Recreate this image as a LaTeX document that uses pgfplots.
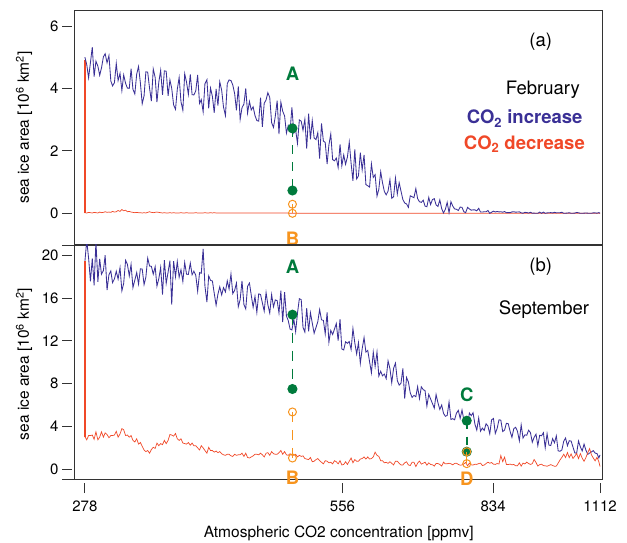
\documentclass[border=0pt]{standalone}
\usepackage{fontspec}
\setmainfont{TeX Gyre Heros}
\usepackage{pgfplots}
\usepackage{pgfplotstable}
\pgfplotsset{compat=1.18}
\definecolor{incblue}{RGB}{58,48,150}
\definecolor{decred}{RGB}{240,72,40}
\definecolor{mkgreen}{RGB}{0,122,60}
\definecolor{mkorange}{RGB}{247,148,30}

\pgfplotstableread{
x fi fd si sd
278.0 5.00 0.02 19.40 3.03
279.4 4.76 0.01 21.40 2.73
280.8 4.34 0.03 19.74 3.13
282.2 4.83 0.02 17.57 3.13
283.6 5.32 0.01 19.72 3.18
285.0 4.38 0.03 17.19 2.78
286.4 4.87 0.02 21.30 3.48
287.9 4.71 0.01 17.53 2.73
289.3 4.42 0.04 19.68 2.98
290.7 4.65 0.02 18.23 3.48
292.2 5.01 0.03 18.58 2.98
293.6 5.11 0.05 20.01 3.38
295.1 4.82 0.03 16.76 3.23
296.6 5.05 0.04 18.19 2.93
298.1 4.24 0.03 18.54 3.13
299.5 4.08 0.06 17.45 3.13
301.0 4.18 0.04 17.80 3.18
302.5 4.80 0.05 18.51 3.53
304.0 4.25 0.09 17.78 2.98
305.6 4.48 0.06 18.85 3.28
307.1 3.93 0.12 16.68 3.78
308.6 4.43 0.08 17.39 3.68
310.2 4.16 0.10 19.54 3.13
311.7 4.01 0.05 19.17 3.18
313.3 4.00 0.06 18.08 2.98
314.8 4.63 0.04 19.15 3.13
316.4 3.97 0.03 16.98 2.68
318.0 3.82 0.02 17.69 2.53
319.6 4.46 0.03 18.40 2.83
321.2 4.70 0.02 17.31 2.33
322.8 4.17 0.02 18.74 2.48
324.4 3.51 0.01 18.72 2.13
326.0 3.76 0.02 17.26 1.78
327.6 4.53 0.01 17.96 1.63
329.2 4.52 0.03 19.74 1.73
330.9 3.99 0.05 19.00 1.48
332.5 3.59 0.03 18.98 1.83
334.2 4.62 0.02 18.24 2.03
335.9 4.35 0.03 18.94 1.93
337.5 3.56 0.04 17.12 2.43
339.2 4.20 0.03 17.82 2.18
340.9 4.58 0.02 18.88 2.38
342.6 3.79 0.01 16.34 2.28
344.3 4.56 0.02 19.56 2.68
346.0 4.55 0.01 17.38 2.38
347.8 3.76 0.01 18.44 2.68
349.5 4.27 0.02 19.50 3.23
351.2 4.00 0.01 15.40 3.18
353.0 3.47 0.02 19.46 3.08
354.8 3.33 0.01 18.00 3.33
356.5 3.97 0.01 19.42 2.83
358.3 4.35 0.01 17.96 2.68
360.1 3.57 0.02 18.66 2.83
361.9 3.30 0.01 17.56 2.43
363.7 4.47 0.01 19.34 2.38
365.5 4.20 0.02 18.24 2.33
367.3 3.81 0.01 18.22 2.48
369.2 4.45 0.01 19.28 2.23
371.0 3.80 0.01 18.18 2.43
372.8 3.79 0.01 18.52 2.18
374.7 3.92 0.02 18.14 2.18
376.6 4.43 0.01 16.64 1.98
378.5 3.52 0.01 18.38 1.78
380.3 3.64 0.01 18.32 2.18
382.2 3.25 0.01 20.60 1.98
384.1 4.15 0.02 17.12 1.73
386.1 4.28 0.01 15.62 1.48
388.0 3.36 0.01 18.08 2.03
389.9 4.01 0.02 17.66 1.73
391.9 3.74 0.01 17.60 1.73
393.8 3.22 0.02 16.46 1.58
395.8 3.98 0.01 15.34 1.68
397.8 3.45 0.01 16.38 1.53
399.7 4.21 0.01 17.06 1.63
401.7 3.94 0.01 16.30 1.43
403.7 3.40 0.01 16.98 1.33
405.8 3.13 0.01 16.58 1.28
407.8 4.15 0.01 17.62 1.38
409.8 4.27 0.01 16.86 1.38
411.9 4.25 0.01 18.26 1.23
413.9 4.11 0.01 16.42 1.18
416.0 3.83 0.01 16.73 1.38
418.0 3.30 0.01 17.40 1.28
420.1 4.06 0.01 15.19 1.33
422.2 3.01 0.01 15.86 1.33
424.3 3.38 0.01 17.61 1.48
426.5 3.50 0.01 15.40 1.18
428.6 4.00 0.01 14.99 1.48
430.7 3.21 0.01 17.10 1.08
432.9 3.58 0.01 17.41 1.03
435.0 3.31 0.01 16.28 1.13
437.2 3.41 0.01 15.14 1.23
439.4 3.13 0.01 16.16 1.38
441.6 2.97 0.01 14.66 1.38
443.8 2.95 0.01 16.40 1.33
446.0 3.70 0.01 16.34 1.48
448.2 2.77 0.01 15.56 1.33
450.4 3.52 0.01 14.78 1.13
452.7 3.63 0.01 16.52 1.48
454.9 3.86 0.01 15.38 1.53
457.2 3.71 0.01 14.60 1.28
459.5 2.90 0.01 16.33 1.63
461.8 2.75 0.01 15.18 1.43
464.1 3.11 0.01 15.83 1.38
466.4 3.61 0.01 15.76 1.38
468.7 2.54 0.01 14.61 1.53
471.1 3.56 0.01 16.70 1.73
473.4 3.27 0.01 13.75 1.38
475.8 3.12 0.01 16.56 1.63
478.2 2.57 0.01 14.33 1.33
480.5 2.81 0.01 13.90 1.28
482.9 2.64 0.00 13.10 1.43
485.3 3.39 0.00 13.02 1.28
487.8 2.57 0.00 14.02 1.28
490.2 2.67 0.00 12.86 1.38
492.6 2.24 0.00 14.58 1.13
495.1 2.99 0.00 15.94 1.28
497.6 2.95 0.00 15.86 1.18
500.0 2.66 0.00 13.26 1.23
502.5 3.01 0.00 12.82 0.98
505.0 2.07 0.00 15.05 0.93
507.6 3.19 0.00 12.89 0.88
510.1 2.37 0.00 14.63 1.08
512.6 2.97 0.00 13.67 0.68
515.2 2.41 0.00 12.71 0.73
517.8 2.36 0.00 13.25 0.88
520.3 2.58 0.00 13.79 0.98
522.9 1.75 0.00 14.93 0.78
525.5 2.88 0.00 13.97 0.63
528.2 2.31 0.00 13.91 0.48
530.8 2.27 0.00 12.65 0.78
533.5 1.58 0.00 14.66 0.73
536.1 2.19 0.00 11.87 0.58
538.8 2.54 0.00 12.98 0.63
541.5 1.72 0.00 12.59 0.48
544.2 1.68 0.00 13.10 0.78
546.9 1.77 0.00 13.61 0.68
549.6 1.47 0.00 12.02 0.48
552.4 2.21 0.00 14.03 0.78
555.1 1.52 0.00 11.24 0.38
557.9 1.87 0.00 11.15 0.43
560.7 1.57 0.00 11.91 0.68
563.5 1.80 0.00 11.77 0.43
566.3 2.28 0.00 11.93 0.73
569.1 1.60 0.00 11.19 1.03
571.9 1.04 0.00 13.15 0.58
574.8 2.05 0.00 11.81 0.88
577.7 1.10 0.00 10.77 0.73
580.5 1.20 0.00 11.83 0.73
583.4 1.94 0.00 9.89 0.93
586.3 1.39 0.00 11.25 0.98
589.3 1.87 0.00 12.30 1.13
592.2 0.92 0.00 10.95 0.93
595.2 0.88 0.00 11.10 1.13
598.1 0.84 0.00 10.05 0.93
601.1 1.58 0.00 9.00 0.98
604.1 1.15 0.00 10.95 1.13
607.1 1.24 0.00 9.60 1.58
610.2 0.55 0.00 10.95 1.28
613.2 0.77 0.00 8.70 1.18
616.3 1.33 0.00 9.15 0.78
619.3 0.98 0.00 8.72 0.78
622.4 0.70 0.00 8.89 0.58
625.5 0.59 0.00 8.46 0.63
628.6 0.71 0.00 10.13 0.53
631.8 1.08 0.00 9.40 0.68
634.9 0.48 0.00 8.07 0.53
638.1 0.53 0.00 9.44 0.38
641.3 1.13 0.00 9.91 0.73
644.5 0.62 0.00 8.28 0.73
647.7 0.98 0.00 7.85 0.53
650.9 0.71 0.00 8.03 0.38
654.2 0.44 0.00 9.41 0.38
657.4 0.33 0.00 6.59 0.58
660.7 0.30 0.00 8.57 0.68
664.0 0.19 0.00 8.15 0.38
667.3 0.56 0.00 7.13 0.33
670.6 0.53 0.00 6.71 0.63
674.0 0.50 0.00 6.89 0.63
677.4 0.79 0.00 6.77 0.23
680.7 0.47 0.00 7.70 0.55
684.1 0.37 0.00 6.59 0.74
687.5 0.35 0.00 7.69 0.46
691.0 0.42 0.00 7.43 0.54
694.4 0.23 0.00 7.34 0.64
697.9 0.21 0.00 5.89 0.36
701.4 0.51 0.00 6.99 0.58
704.9 0.28 0.00 6.56 0.42
708.4 0.44 0.00 6.13 0.40
711.9 0.47 0.00 5.70 0.27
715.4 0.27 0.00 6.97 0.52
719.0 0.22 0.00 6.19 0.51
722.6 0.43 0.00 5.58 0.43
726.2 0.15 0.00 5.99 0.27
729.8 0.01 0.00 5.21 0.64
733.5 0.13 0.00 4.94 0.48
737.1 0.35 0.00 5.01 0.49
740.8 0.02 0.00 6.27 0.54
744.5 0.37 0.00 4.64 0.49
748.2 0.23 0.00 4.71 0.39
751.9 0.14 0.00 4.61 0.52
755.7 0.13 0.00 5.22 0.54
759.5 0.09 0.00 5.49 0.43
763.3 0.20 0.00 4.74 0.36
767.1 0.19 0.00 5.52 0.37
770.9 0.05 0.00 4.60 0.48
774.7 0.02 0.00 4.70 0.61
778.6 0.19 0.00 4.12 0.30
782.5 0.14 0.00 5.24 0.55
786.4 0.10 0.00 5.00 0.39
790.3 0.11 0.00 5.27 0.37
794.2 0.11 0.00 4.20 0.45
798.2 0.08 0.00 3.64 0.43
802.2 0.16 0.00 4.78 0.51
806.2 0.04 0.00 3.54 0.55
810.2 0.04 0.00 3.83 0.33
814.2 0.05 0.00 3.61 0.37
818.3 0.05 0.00 4.24 0.51
822.4 0.09 0.00 4.02 0.64
826.5 0.00 0.00 3.29 0.54
830.6 0.035 0.00 4.60 0.61
834.8 0.069 0.00 4.73 0.45
838.9 0.043 0.00 3.33 0.43
843.1 0.059 0.00 3.80 0.51
847.3 0.045 0.00 4.61 0.47
851.5 0.049 0.00 4.57 1.26
855.8 0.035 0.00 3.51 0.69
860.1 0.057 0.00 3.64 1.11
864.3 0.019 0.00 4.28 0.43
868.7 0.023 0.00 4.24 0.42
873.0 0.021 0.00 3.52 0.46
877.3 0.044 0.00 2.97 0.39
881.7 0.049 0.00 3.78 0.43
886.1 0.036 0.00 3.91 0.30
890.5 0.041 0.00 3.53 0.30
895.0 0.046 0.00 2.64 0.58
899.4 0.015 0.00 4.13 0.27
903.9 0.002 0.00 2.90 0.55
908.4 0.031 0.00 3.20 0.48
913.0 0.024 0.00 3.16 0.64
917.5 0.008 0.00 3.63 0.51
922.1 0.032 0.00 3.41 0.43
926.7 0.002 0.00 2.51 0.50
931.3 0.006 0.00 2.97 0.89
936.0 0.000 0.00 3.26 0.61
940.6 0.000 0.00 2.19 0.27
945.3 0.039 0.00 3.16 0.41
950.0 0.000 0.00 3.11 0.45
954.8 0.038 0.00 3.40 0.32
959.5 0.000 0.00 1.99 0.30
964.3 0.013 0.00 3.30 0.26
969.1 0.017 0.00 2.24 0.33
974.0 0.022 0.00 2.20 0.41
978.8 0.011 0.00 2.84 0.33
983.7 0.030 0.00 2.46 0.26
988.6 0.015 0.00 3.10 0.27
993.5 0.020 0.00 1.70 0.55
998.5 0.019 0.00 1.66 0.85
1003.5 0.033 0.00 1.79 1.09
1008.5 0.000 0.00 2.60 1.38
1013.5 0.003 0.00 2.90 1.07
1018.6 0.008 0.00 2.18 1.54
1023.6 0.018 0.00 2.65 1.06
1028.8 0.000 0.00 2.61 1.41
1033.9 0.002 0.00 2.06 0.99
1039.0 0.007 0.00 1.51 1.19
1044.2 0.026 0.00 1.47 1.45
1049.4 0.016 0.00 2.62 0.97
1054.7 0.000 0.00 2.07 1.44
1059.9 0.000 0.00 1.69 1.02
1065.2 0.005 0.00 2.33 0.72
1070.5 0.010 0.00 1.77 1.07
1075.9 0.004 0.00 1.37 1.52
1081.2 0.000 0.00 1.49 1.91
1086.6 0.000 0.00 1.60 1.33
1092.0 0.014 0.00 1.72 1.03
1097.5 0.013 0.00 1.49 0.76
1103.0 0.003 0.00 1.44 1.10
1108.5 0.023 0.00 1.04 0.68
1112.0 0.000 0.00 1.32 0.23
}\data

\pgfplotsset{
  panel/.style={
    scale only axis, width=528pt,
    xmin=270, xmax=1118,
    xminorticks=false, yminorticks=false,
    tick align=outside, major tick length=10pt,
    ytick pos=left, xtick pos=bottom,
    axis line style={black!80, line width=0.8pt},
    tick style={black!80, line width=0.8pt},
    ytick style={xshift=-2pt},
    xtick style={yshift=-4pt},
    clip mode=individual,
    ticklabel style={font=\fontsize{15}{18}\selectfont},
    yticklabel style={xshift=-2pt},
    xticklabel style={yshift=-8pt},
    /pgf/number format/assume math mode=true,
  },
}
\tikzset{lbl/.style={font=\bfseries\fontsize{18.5}{22}\selectfont, inner sep=0pt}}

\begin{document}
\begin{tikzpicture}
\path[use as bounding box] (0,0) rectangle (627pt,542pt);

% ---------- (a) February ----------
\begin{axis}[xmode=log, panel, at={(74pt,297pt)}, anchor=south west, height=235pt,
  ymin=-1.015, ymax=6.51, ytick={0,2,4,6}, xtick=\empty]
\addplot[decred, line width=0.7pt] table[x=x, y=fd] {\data};
\addplot[decred, line width=1.3pt] coordinates {(278,0) (278,4.9)};
\addplot[incblue, line width=0.85pt] table[x=x, y=fi] {\data};
\addplot[mkgreen, line width=1.6pt, dash pattern=on 9pt off 8pt, mark=*, mark size=4.2pt, mark options={solid}]
  coordinates {(486,2.72) (486,0.73)};
\addplot[mkorange, line width=1.2pt, mark=o, mark size=4pt, mark options={solid, line width=1pt}]
  coordinates {(486,0.29) (486,0.0)};
\node[lbl, text=mkgreen] at (axis cs:486,4.48) {A};
\node[lbl, text=mkorange] at (axis cs:486,-0.82) {B};
\end{axis}

% ---------- (b) September ----------
\begin{axis}[xmode=log, panel, at={(74pt,63pt)}, anchor=south west, height=234.3pt,
  ymin=-0.936, ymax=21, ytick={0,4,8,12,16,20},
  xtick={278,556,834,1112}, xticklabels={278,556,834,1112}]
\addplot[incblue, line width=0.85pt] table[x=x, y=si] {\data};
\addplot[decred, line width=0.7pt] table[x=x, y=sd] {\data};
\addplot[decred, line width=1.3pt] coordinates {(278,3.03) (278,19.5)};
\addplot[mkgreen, line width=1.6pt, dash pattern=on 10pt off 8pt, mark=*, mark size=4.2pt, mark options={solid}]
  coordinates {(486,14.45) (486,7.49)};
\addplot[mkorange, line width=1.4pt, dash pattern=on 10pt off 8pt, mark=o, mark size=4pt, mark options={solid, line width=1pt}]
  coordinates {(486,5.34) (486,1.03)};
\addplot[mkgreen, line width=1.6pt, dash pattern=on 8pt off 8pt, mark=*, mark size=4.2pt, mark options={solid}]
  coordinates {(777,4.52) (777,1.62)};
\addplot[mkorange, line width=1.4pt, mark=o, mark size=4pt, mark options={solid, line width=1pt}]
  coordinates {(777,1.62) (777,0.5)};
\node[lbl, text=mkgreen] at (axis cs:486,18.97) {A};
\node[lbl, text=mkorange] at (axis cs:486,-0.84) {B};
\node[lbl, text=mkgreen] at (axis cs:777,6.93) {C};
\node[lbl, text=mkorange] at (axis cs:777,-0.94) {D};
\end{axis}

% extensions of the horizontal frame lines
\draw[black!80, line width=0.8pt] (62pt,297pt) -- (74pt,297pt);
\draw[black!80, line width=0.8pt] (62pt,63pt) -- (74pt,63pt);

% annotations
\begin{scope}[every node/.style={inner sep=0pt, font=\fontsize{18.5}{22}\selectfont}]
\node at (540.7pt,500.3pt) {(a)};
\node[anchor=base east] at (580pt,447.7pt) {February};
\node[anchor=base east, text=incblue, font=\bfseries\fontsize{18.5}{22}\selectfont] at (582.7pt,418pt) {CO\textsubscript{2} increase};
\node[anchor=base east, text=decred, font=\bfseries\fontsize{18.5}{22}\selectfont] at (585pt,392.7pt) {CO\textsubscript{2} decrease};
\node at (540.7pt,275.3pt) {(b)};
\node[anchor=base east] at (589.3pt,228pt) {September};
\end{scope}

\begin{scope}[every node/.style={inner sep=0pt, font=\fontsize{15.5}{18}\selectfont}]
\node[rotate=90] at (24pt,414.5pt) {sea ice area [10\textsuperscript{6} km\textsuperscript{2}]};
\node[rotate=90] at (24pt,178pt) {sea ice area [10\textsuperscript{6} km\textsuperscript{2}]};
\node at (338.7pt,8.5pt) {Atmospheric CO2 concentration [ppmv]};
\end{scope}
\end{tikzpicture}
\end{document}
